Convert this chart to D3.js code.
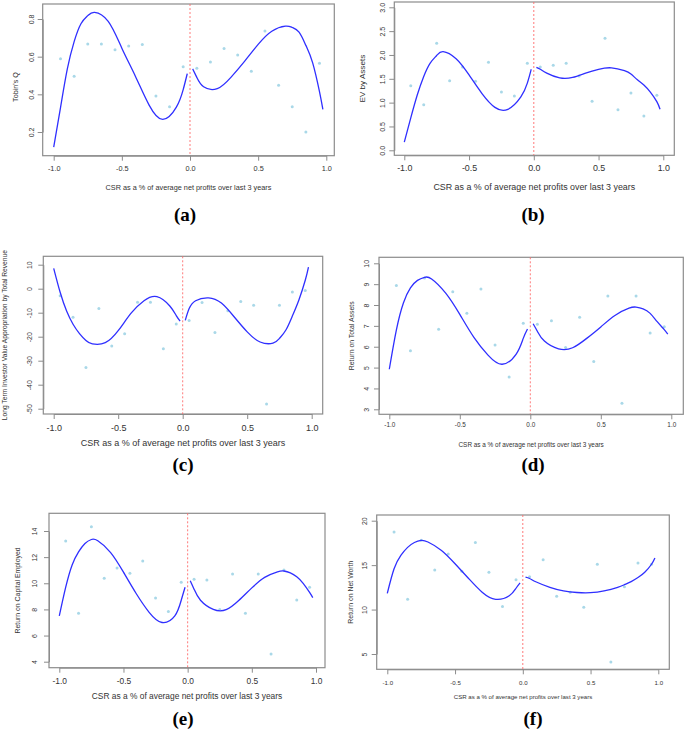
<!DOCTYPE html>
<html><head><meta charset="utf-8">
<script src="https://cdn.jsdelivr.net/npm/d3@7"></script>
<style>body{margin:0;background:#fff}svg{display:block}</style>
</head><body><svg id="chart" width="685" height="731"></svg>
<script>
// ---------- DATA ----------
const csrBins = [-0.95,-0.85,-0.75,-0.65,-0.55,-0.45,-0.35,-0.25,-0.15,-0.05,0.05,0.15,0.25,0.35,0.45,0.55,0.65,0.75,0.85,0.95];
const tobinsQ  = [0.589,0.496,0.667,0.667,0.637,0.657,0.665,0.391,0.334,0.547,0.538,0.572,0.644,0.609,0.522,0.736,0.448,0.334,0.200,0.565];
const evAssets = [1.355,0.957,2.245,1.46,1.748,1.447,1.846,1.223,1.139,1.825,1.748,1.783,1.825,1.56,1.028,2.35,0.853,1.203,0.72,1.154];
const ltiva    = [-2.9,-11.9,-32.8,-8.3,-23.9,-18.75,-5.6,-5.6,-25.0,-14.7,-13.2,-5.7,-18.2,-9.2,-5.3,-6.9,-48.0,-6.9,-1.4,-0.8];
const rota     = [8.93,5.81,9.3,6.84,8.63,7.6,8.77,6.08,4.55,7.12,7.08,7.24,5.96,7.41,5.29,8.43,3.29,8.43,6.66,6.96];
const roce     = [13.23,7.7,14.33,10.38,11.17,10.76,11.7,8.87,7.85,10.07,10.3,10.25,8.0,10.71,7.7,10.71,4.59,11.02,8.72,9.69];
const ronw     = [18.73,11.15,17.8,14.45,16.25,14.3,17.56,14.19,10.35,13.36,13.7,15.61,11.49,11.94,10.25,15.09,4.1,12.58,15.24,15.09];

// fitted curve
const fitLeftX  = [-1,-0.95,-0.9,-0.85,-0.8,-0.75,-0.7,-0.6,-0.5,-0.4,-0.3,-0.2,-0.1,-0.05,-0.02];
const fitRightX = [0.02,0.05,0.1,0.2,0.3,0.4,0.5,0.6,0.7,0.75,0.8,0.85,0.9,0.95,0.975];
const fitA_L = [0.12,0.33,0.535,0.68,0.775,0.818,0.835,0.787,0.645,0.495,0.343,0.267,0.332,0.425,0.51];
const fitA_R = [0.535,0.49,0.44,0.43,0.49,0.575,0.665,0.735,0.762,0.755,0.73,0.66,0.567,0.414,0.32];
const fitB_L = [0.17,0.68,1.16,1.55,1.83,1.99,2.07,1.92,1.58,1.19,0.9,0.86,1.12,1.41,1.7];
const fitB_R = [1.74,1.70,1.62,1.52,1.53,1.62,1.70,1.73,1.67,1.60,1.48,1.37,1.22,1.02,0.86];
const fitC_L = [8.5,-1.5,-9.3,-14.8,-18.7,-21.6,-23.0,-22.5,-17.5,-10.2,-5.0,-3.3,-7.2,-11.2,-13.5];
const fitC_R = [-13.2,-8.3,-5.0,-3.8,-6.0,-11.8,-18.0,-22.2,-22.7,-20.7,-17.2,-11.4,-4.8,3.5,9.0];
const fitD_L = [4.92,6.8,8.1,8.82,9.18,9.33,9.25,8.57,7.55,6.45,5.6,5.16,5.65,6.4,6.85];
const fitD_R = [7.1,6.74,6.27,5.9,5.95,6.4,6.95,7.5,7.85,7.9,7.82,7.6,7.2,6.82,6.6];
const fitE_L = [7.5,9.7,11.4,12.4,13.05,13.35,13.25,12.35,10.85,9.2,7.78,7.0,7.5,8.7,9.7];
const fitE_R = [10.2,9.55,8.7,8.0,7.98,8.7,9.65,10.45,10.88,10.94,10.8,10.5,10.0,9.3,8.9];
const fitF_L = [11.83,14.6,16.1,17.0,17.55,17.78,17.6,16.65,15.15,13.5,11.95,11.15,11.55,12.4,13.0];
const fitF_R = [13.65,13.5,13.1,12.5,12.1,11.92,11.9,12.1,12.5,12.8,13.15,13.6,14.2,15.1,15.8];

const xTickValues = [-1,-0.5,0,0.5,1];
const xTickLabels = ["-1.0","-0.5","0.0","0.5","1.0"];
const xTitle = "CSR as a % of average net profits over last 3 years";
const yTitles = ["Tobin's Q","EV by Assets","Long Term Investor Value Appropriation by Total Revenue","Return on Total Assets","Return on Capital Employed","Return on Net Worth"];
const captions = ["(a)","(b)","(c)","(d)","(e)","(f)"];
const yTicksA = [0.2,0.4,0.6,0.8],            yLabelsA = ["0.2","0.4","0.6","0.8"];
const yTicksB = [0,0.5,1,1.5,2,2.5,3],        yLabelsB = ["0.0","0.5","1.0","1.5","2.0","2.5","3.0"];
const yTicksC = [-50,-40,-30,-20,-10,0,10],   yLabelsC = ["-50","-40","-30","-20","-10","0","10"];
const yTicksD = [3,4,5,6,7,8,9,10],           yLabelsD = ["3","4","5","6","7","8","9","10"];
const yTicksE = [4,6,8,10,12,14],             yLabelsE = ["4","6","8","10","12","14"];
const yTicksF = [5,10,15,20],                 yLabelsF = ["5","10","15","20"];

// ---------- LAYOUT ----------
const layout = [
 {l:42.7,r:334.3,t:4,b:155.7, x0:53.7,x1:326.3, yp0:132,yp1:19, fsX:7.3,fsYT:7.0,fsYTi:7.2, xtY:168.3,ytX:31.7,yTiX:15,yTiY:87,xTiY:187, cap:[185,221]},
 {l:394.3,r:674.3,t:2,b:155.3, x0:404.3,x1:663.3, yp0:150.3,yp1:7.3, fsX:8.9,fsYT:7.0,fsYTi:8.1, xtY:168.3,ytX:382.3,yTiX:362.3,yTiY:null,xTiY:187, cap:[533,221]},
 {l:43.3,r:322.7,t:256.3,b:414, x0:53.7,x1:311.7, yp0:408.7,yp1:264.7, fsX:9.0,fsYT:6.9,fsYTi:6.7, xtY:428.3,ytX:30,yTiX:5,yTiY:null,xTiY:443.3, cap:[183,471]},
 {l:379,r:683.3,t:257.3,b:414.3, x0:389.3,x1:671.3, yp0:409.3,yp1:263.3, fsX:6.4,fsYT:6.9,fsYTi:6.9, xtY:424.3,ytX:366.7,yTiX:351.7,yTiY:null,xTiY:444.3, cap:[533,471]},
 {l:49,r:325,t:513.3,b:667.7, x0:59.3,x1:316, yp0:661.7,yp1:531, fsX:8.4,fsYT:6.9,fsYTi:6.9, xtY:681,ytX:35,yTiX:17.3,yTiY:null,xTiY:696, cap:[183,725]},
 {l:376.7,r:669.3,t:515,b:669.3, x0:387.3,x1:658.3, yp0:654,yp1:520.7, fsX:6.1,fsYT:6.9,fsYTi:6.9, xtY:682.7,ytX:365,yTiX:350.7,yTiY:null,xTiY:697.3, cap:[533,725]}
];

const panels = [
 {vals:tobinsQ, fitL:fitA_L, fitR:fitA_R, yt:yTicksA, yl:yLabelsA},
 {vals:evAssets,fitL:fitB_L, fitR:fitB_R, yt:yTicksB, yl:yLabelsB},
 {vals:ltiva,   fitL:fitC_L, fitR:fitC_R, yt:yTicksC, yl:yLabelsC},
 {vals:rota,    fitL:fitD_L, fitR:fitD_R, yt:yTicksD, yl:yLabelsD},
 {vals:roce,    fitL:fitE_L, fitR:fitE_R, yt:yTicksE, yl:yLabelsE},
 {vals:ronw,    fitL:fitF_L, fitR:fitF_R, yt:yTicksF, yl:yLabelsF}
];

const svg = d3.select("#chart");
const FONT = "'Liberation Sans', Arial, sans-serif";
const TXT = "#333";
const AX = "#8c8c8c";

panels.forEach((p,i)=>{
  const L = layout[i];
  const g = svg.append("g");
  const x = d3.scaleLinear().domain([-1,1]).range([L.x0,L.x1]);
  const y = d3.scaleLinear().domain([p.yt[0], p.yt[p.yt.length-1]]).range([L.yp0,L.yp1]);

  g.append("rect").attr("x",L.l).attr("y",L.t).attr("width",L.r-L.l).attr("height",L.b-L.t)
    .attr("fill","none").attr("stroke",AX).attr("stroke-width",1.2);

  g.append("line").attr("x1",x(0)).attr("x2",x(0)).attr("y1",L.t).attr("y2",L.b)
    .attr("stroke","#ff6b6b").attr("stroke-width",0.9).attr("stroke-dasharray","2,2");

  g.selectAll("circle.pt").data(csrBins.map((c,k)=>[c,p.vals[k]])).enter().append("circle")
    .attr("class","pt").attr("cx",d=>x(d[0])).attr("cy",d=>y(d[1])).attr("r",1.5).attr("fill","#a9d8e8");

  const line = d3.line().x(d=>x(d[0])).y(d=>y(d[1])).curve(d3.curveNatural);
  g.append("path").attr("d",line(fitLeftX.map((c,k)=>[c,p.fitL[k]])))
    .attr("fill","none").attr("stroke","#2f2fff").attr("stroke-width",1.3);
  g.append("path").attr("d",line(fitRightX.map((c,k)=>[c,p.fitR[k]])))
    .attr("fill","none").attr("stroke","#2f2fff").attr("stroke-width",1.3);

  // x axis
  const xa = g.append("g").attr("transform",`translate(0,${L.b})`)
    .call(d3.axisBottom(x).tickValues(xTickValues).tickFormat((d,k)=>xTickLabels[k]).tickSize(5).tickSizeOuter(0));
  xa.select(".domain").attr("stroke",AX);
  xa.selectAll(".tick line").attr("stroke",AX);
  xa.selectAll(".tick text").attr("y",L.xtY-L.b).attr("dy","0.35em")
    .attr("font-family",FONT).attr("font-size",L.fsX).attr("fill",TXT);

  // y axis
  const ya = g.append("g").attr("transform",`translate(${L.l},0)`)
    .call(d3.axisLeft(y).tickValues(p.yt).tickFormat((d,k)=>p.yl[k]).tickSize(5).tickSizeOuter(0));
  ya.select(".domain").attr("stroke",AX);
  ya.selectAll(".tick line").attr("stroke",AX);
  ya.selectAll(".tick text").attr("x",0).attr("y",0).attr("dy","0.35em").attr("text-anchor","middle")
    .attr("transform",`translate(${L.ytX-L.l},0) rotate(-90)`)
    .attr("font-family",FONT).attr("font-size",L.fsYT).attr("fill",TXT);

  // titles
  g.append("text").attr("x",(L.l+L.r)/2).attr("y",L.xTiY).attr("dy","0.35em").attr("text-anchor","middle")
    .attr("font-family",FONT).attr("font-size",L.fsX).attr("fill",TXT).text(xTitle);
  const yc = L.yTiY != null ? L.yTiY : (L.t+L.b)/2;
  g.append("text").attr("transform",`translate(${L.yTiX},${yc}) rotate(-90)`).attr("dy","0.35em")
    .attr("text-anchor","middle").attr("font-family",FONT).attr("font-size",L.fsYTi).attr("fill",TXT).text(yTitles[i]);

  svg.append("text").attr("x",L.cap[0]).attr("y",L.cap[1]).attr("text-anchor","middle")
    .attr("font-family","'Liberation Serif','Times New Roman',serif").attr("font-weight","bold")
    .attr("font-size",19).attr("fill","#000").text(captions[i]);
});
</script></body></html>
